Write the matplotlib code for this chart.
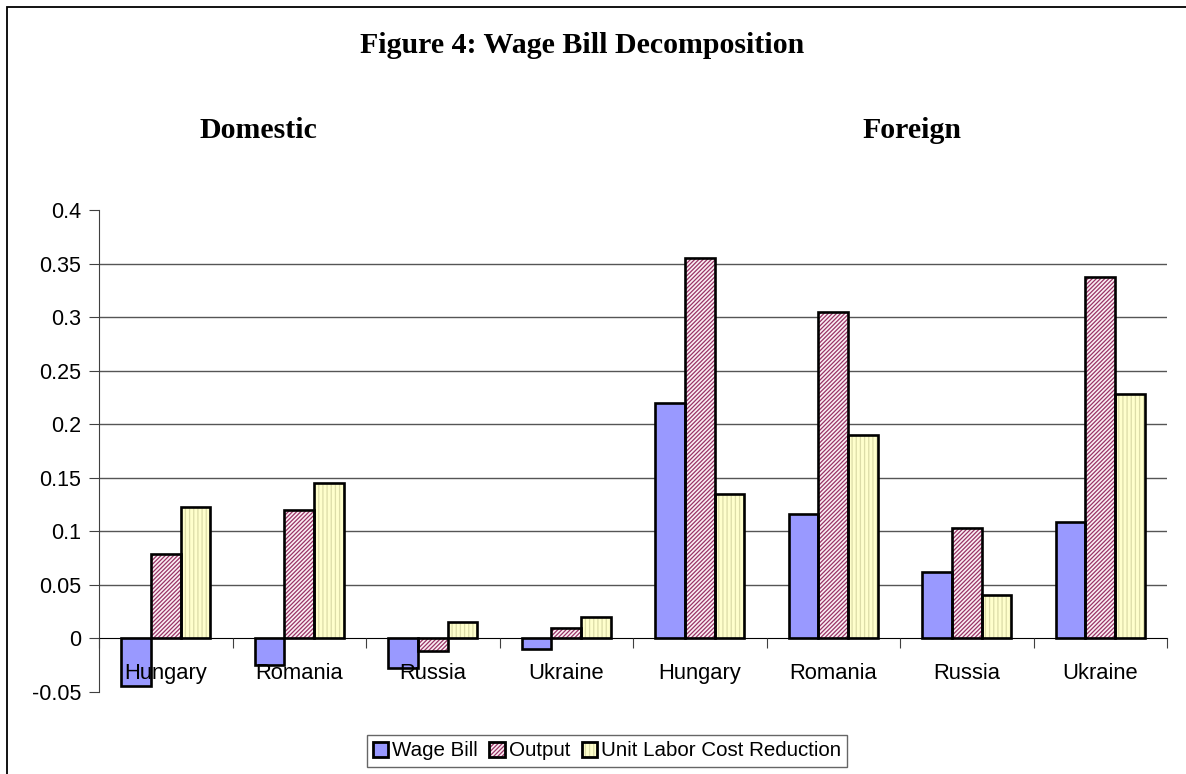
import numpy as np
import matplotlib
matplotlib.use('Agg')
import matplotlib.pyplot as plt
from matplotlib.patches import Rectangle, Patch

# Data
countries = ['Hungary', 'Romania', 'Russia', 'Ukraine',
             'Hungary', 'Romania', 'Russia', 'Ukraine']
wage_bill = [-0.044, -0.025, -0.028, -0.010, 0.220, 0.116, 0.062, 0.109]
output = [0.079, 0.120, -0.012, 0.010, 0.355, 0.305, 0.103, 0.337]
ulc_reduction = [0.123, 0.145, 0.015, 0.020, 0.135, 0.190, 0.041, 0.228]
series_names = ['Wage Bill', 'Output', 'Unit Labor Cost Reduction']

W, H = 1186, 774
plt.rcParams['font.family'] = ['Liberation Sans', 'DejaVu Sans']
plt.rcParams['hatch.linewidth'] = 0.9

fig = plt.figure(figsize=(W / 100, H / 100), dpi=100)
ax = fig.add_axes([99 / W, 1 - 692 / H, (1167 - 99) / W, (692 - 210) / H])
ax.set_axisbelow(False)

x = np.arange(len(countries)) + 0.5
bw = 0.222
styles = [dict(color='#9999FF', hatch=None, hcol='#9999FF'),
          dict(color='#FBEFF4', hatch='////////', hcol='#993366'),
          dict(color='#FFFFCC', hatch='||||', hcol='#DCDCA8')]

handles = []
for k, vals in enumerate([wage_bill, output, ulc_reduction]):
    st = styles[k]
    pos = x + (k - 1) * bw
    ax.bar(pos, vals, bw, color=st['color'], hatch=st['hatch'],
           edgecolor=st['hcol'], linewidth=0, zorder=1.5)
    ax.bar(pos, vals, bw, fill=False, edgecolor='black', linewidth=1.9,
           zorder=1.6)
    p1 = Patch(facecolor=st['color'], hatch=st['hatch'],
               edgecolor=st['hcol'], linewidth=0)
    p2 = Patch(fill=False, edgecolor='black', linewidth=2.0)
    handles.append((p1, p2))

ax.set_xlim(0, 8)
ax.set_ylim(-0.05, 0.4)
ax.set_yticks(np.arange(-0.05, 0.401, 0.05))
ax.set_yticklabels(['-0.05', '0', '0.05', '0.1', '0.15', '0.2', '0.25',
                    '0.3', '0.35', '0.4'])
for yv in np.arange(0.05, 0.36, 0.05):
    ax.axhline(yv, color='#555555', linewidth=1.0, zorder=0.5)

ax.spines['top'].set_visible(False)
ax.spines['right'].set_visible(False)
ax.spines['left'].set_color('#404040')
ax.spines['bottom'].set_position(('data', 0))
ax.spines['bottom'].set_color('black')
ax.spines['bottom'].set_zorder(2.5)

ax.set_xticks(np.arange(0, 9))
ax.set_xticklabels([])
ax.set_xticks(x, minor=True)
ax.set_xticklabels(countries, minor=True)
ax.tick_params(axis='x', which='major', length=7, direction='out',
               color='#404040')
ax.tick_params(axis='x', which='minor', length=0, pad=18, labelsize=15.8)
ax.tick_params(axis='y', length=7, direction='out', color='#404040',
               labelsize=15.5, pad=6)

serif = ['Liberation Serif', 'DejaVu Serif']
fig.text(582 / W, 1 - 53 / H, 'Figure 4: Wage Bill Decomposition',
         ha='center', va='baseline', fontsize=21.5, fontweight='bold',
         family=serif)
fig.text(258 / W, 1 - 138 / H, 'Domestic', ha='center', va='baseline',
         fontsize=21.5, fontweight='bold', family=serif)
fig.text(912 / W, 1 - 138 / H, 'Foreign', ha='center', va='baseline',
         fontsize=21.5, fontweight='bold', family=serif)

leg = fig.legend(handles, series_names, loc='center',
                 bbox_to_anchor=(607 / W, 1 - 751 / H), ncol=3,
                 fontsize=14.8, frameon=True, fancybox=False,
                 edgecolor='#404040', handlelength=0.75, handleheight=0.75,
                 handletextpad=0.2, columnspacing=0.55, borderpad=0.3)
leg.get_frame().set_linewidth(1.0)

# outer chart border
fig.add_artist(Rectangle((6.5 / W, -0.1), 1.2, 1.1 - 7 / H,
                         transform=fig.transFigure, fill=False,
                         edgecolor='black', linewidth=1.3))

fig.savefig('out.png', dpi=100)
